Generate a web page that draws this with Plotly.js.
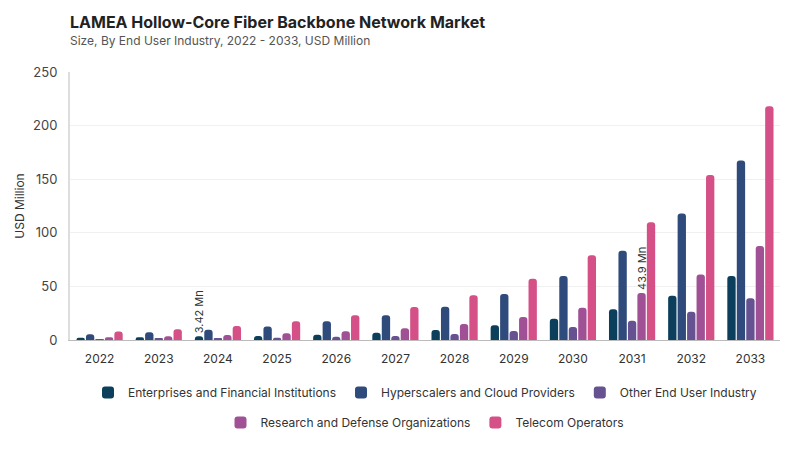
<!DOCTYPE html>
<html>
<head>
<meta charset="utf-8">
<script src="https://cdn.plot.ly/plotly-3.0.1.min.js"></script>
<style>
  html, body { margin: 0; padding: 0; background: #fff; }
  #mydiv { width: 800px; height: 450px; }
</style>
</head>
<body>
<div id="mydiv"></div>
<script>
// years on the x axis
var years = ['2022', '2023', '2024', '2025', '2026', '2027', '2028', '2029', '2030', '2031', '2032', '2033'];

// series values, USD Million
var enterprises = [2.0, 2.6, 3.42, 3.8, 5.0, 6.8, 9.3, 13.7, 19.9, 28.6, 41.3, 59.7];
var hyperscalers = [5.3, 7.2, 9.5, 12.7, 17.5, 23.0, 31.1, 42.9, 59.7, 83.3, 118.0, 167.5];
var otherIndustry = [0.8, 1.0, 1.5, 2.0, 3.0, 3.7, 5.6, 8.4, 12.1, 18.0, 26.4, 38.9];
var research = [2.6, 3.5, 4.6, 6.2, 8.2, 10.9, 14.9, 21.5, 30.2, 43.9, 61.0, 87.7];
var telecom = [8.0, 10.0, 13.0, 17.5, 23.0, 30.8, 41.7, 57.2, 79.0, 109.8, 154.0, 218.0];

var seriesNames = ['Enterprises and Financial Institutions', 'Hyperscalers and Cloud Providers',
    'Other End User Industry', 'Research and Defense Organizations', 'Telecom Operators'];
var seriesValues = [enterprises, hyperscalers, otherIndustry, research, telecom];
var colors = ['#0b3f5c', '#2f4b7c', '#665191', '#a05195', '#d45087'];
// first three in the top legend row, the rest in the second
var legendRow = ['legend', 'legend', 'legend', 'legend2', 'legend2'];

// which bar of which series gets a value label
var labelled = {0: '2024', 3: '2031'};

function buildTrace(k)
{
    var vals = seriesValues[k];
    var txt = vals.map(function(v, i) {
        return labelled[k] === years[i] ? v + ' Mn' : '';
    });
    return {
        type: 'bar',
        name: seriesNames[k],
        legend: legendRow[k],
        x: years,
        y: vals,
        text: txt,
        textposition: 'outside',
        textangle: -90,
        constraintext: 'none',
        cliponaxis: false,
        textfont: {family: 'Inter, sans-serif', size: 11, color: '#333'},
        marker: {color: colors[k]},
        hoverinfo: 'x+y+name'
    };
}

var data = [];
for (var k = 0; k < seriesNames.length; k++) {
    data.push(buildTrace(k));
}

var legendBase = {
    orientation: 'h',
    x: 0.5,
    xanchor: 'center',
    yanchor: 'middle',
    font: {size: 12, color: '#333'},
    itemsizing: 'constant',
    itemwidth: 30,
    traceorder: 'normal'
};

var layout = {
    width: 800,
    height: 450,
    margin: {l: 70, r: 20, t: 72, b: 110},
    paper_bgcolor: '#fff',
    plot_bgcolor: '#fff',
    font: {family: 'Inter, sans-serif', size: 12, color: '#333'},
    barmode: 'group',
    bargap: 0.2,
    bargroupgap: 0.12,
    barcornerradius: 3,
    showlegend: true,
    legend: Object.assign({}, legendBase, {y: -0.196}),
    legend2: Object.assign({}, legendBase, {y: -0.308}),
    xaxis: {
        type: 'category',
        showgrid: false,
        showline: true,
        linecolor: '#bbb',
        ticks: 'outside',
        ticklen: 8,
        tickcolor: '#fff',
        tickfont: {size: 12, color: '#333'}
    },
    yaxis: {
        range: [0, 250],
        dtick: 50,
        showgrid: true,
        gridcolor: '#f0f0f0',
        showline: true,
        linecolor: '#ddd',
        linewidth: 2,
        zeroline: false,
        ticks: 'outside',
        ticklen: 8,
        tickcolor: '#fff',
        tickfont: {size: 13, color: '#444'},
        title: {text: 'USD Million', font: {size: 12, color: '#333'}, standoff: 6}
    },
    annotations: [
        {
            xref: 'paper', yref: 'paper', x: -0.003, y: 1.187,
            xanchor: 'left', yanchor: 'middle', showarrow: false,
            text: '<b>LAMEA Hollow-Core Fiber Backbone Network Market</b>',
            font: {size: 16, color: '#222'}
        },
        {
            xref: 'paper', yref: 'paper', x: -0.003, y: 1.116,
            xanchor: 'left', yanchor: 'middle', showarrow: false,
            text: 'Size, By End User Industry, 2022 - 2033, USD Million',
            font: {size: 12, color: '#555'}
        }
    ]
};

Plotly.newPlot('mydiv', data, layout, {displayModeBar: false});
</script>
</body>
</html>
